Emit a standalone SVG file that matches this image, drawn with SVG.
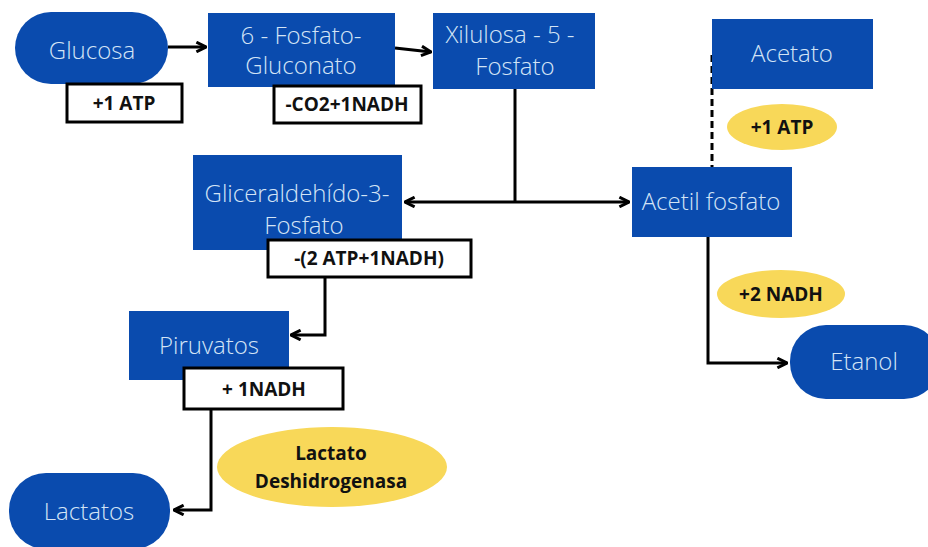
<svg xmlns="http://www.w3.org/2000/svg" width="928" height="547" viewBox="0 0 928 547">
<defs>
<style>
.n{fill:#0a4bae}
.t{font-family:"Open Sans",sans-serif;font-weight:300;font-size:24px;fill:#d3e4f6;text-anchor:middle}
.b{fill:#fff;stroke:#000;stroke-width:3}
.y{fill:#f8d859}
.l{font-family:"Open Sans",sans-serif;font-weight:700;font-size:19px;fill:#111;text-anchor:middle}
.c{fill:none;stroke:#000;stroke-width:3}
</style>
<marker id="a" viewBox="0 0 10 10" refX="9" refY="5" markerWidth="4" markerHeight="4" orient="auto-start-reverse" markerUnits="strokeWidth">
<path d="M1,1 L9,5 L1,9" fill="none" stroke="#000" stroke-width="2.5"/>
</marker>
</defs>
<rect width="928" height="547" fill="#fff"/>
<g id="connectors">
<path class="c" d="M168,47 H206" marker-end="url(#a)"/>
<path class="c" d="M395,48 L431,52" marker-end="url(#a)"/>
<path class="c" d="M515,89 V202"/>
<path class="c" d="M405,202 H629" marker-start="url(#a)" marker-end="url(#a)"/>
<path class="c" d="M712,55 V167" stroke-dasharray="7,4"/>
<path class="c" d="M325,277 V335 H291" marker-end="url(#a)"/>
<path class="c" d="M211,409 V510 H174" marker-end="url(#a)"/>
<path class="c" d="M708,237 V363 H787" marker-end="url(#a)"/>
</g>
<g id="glucosa"><rect class="n" x="15" y="12" width="153" height="72" rx="36"/><text class="t" x="92" y="59">Glucosa</text></g>
<g id="atp1"><rect class="b" x="67" y="84" width="115" height="38"/><text class="l" x="124" y="110">+1 ATP</text></g>
<g id="fosfogluconato"><rect class="n" x="208" y="13" width="187" height="74"/><text class="t" x="301" y="44">6 - Fosfato-</text><text class="t" x="301" y="74">Gluconato</text></g>
<g id="co2"><rect class="b" x="274" y="86" width="147" height="37"/><text class="l" x="347" y="111">-CO2+1NADH</text></g>
<g id="xilulosa"><rect class="n" x="433" y="13" width="162" height="76"/><text class="t" x="510" y="43">Xilulosa - 5 -</text><text class="t" x="515" y="75">Fosfato</text></g>
<g id="acetato"><rect class="n" x="712" y="19" width="161" height="70"/><text class="t" x="792" y="62">Acetato</text></g>
<g id="atp2"><ellipse class="y" cx="782" cy="127" rx="55" ry="23"/><text class="l" x="782" y="134">+1 ATP</text></g>
<g id="acetilfosfato"><rect class="n" x="632" y="167" width="160" height="70"/><text class="t" x="711" y="210">Acetil fosfato</text></g>
<g id="gliceraldehido"><rect class="n" x="193" y="155" width="209" height="95"/><text class="t" x="297" y="202">Gliceraldehído-3-</text><text class="t" x="304" y="234">Fosfato</text></g>
<g id="atpnadh"><rect class="b" x="268" y="240" width="203" height="37"/><text class="l" x="369" y="265">-(2 ATP+1NADH)</text></g>
<g id="nadh2"><ellipse class="y" cx="781" cy="294" rx="64" ry="24"/><text class="l" x="781" y="301">+2 NADH</text></g>
<g id="etanol"><rect class="n" x="790" y="325" width="150" height="74" rx="36"/><text class="t" x="864" y="370">Etanol</text></g>
<g id="piruvatos"><rect class="n" x="129" y="311" width="160" height="69"/><text class="t" x="209" y="354">Piruvatos</text></g>
<g id="nadh1"><rect class="b" x="184" y="368" width="159" height="41"/><text class="l" x="264" y="396">+ 1NADH</text></g>
<g id="ldh"><ellipse class="y" cx="332" cy="467" rx="115" ry="40"/><text class="l" x="331" y="460">Lactato</text><text class="l" x="331" y="488">Deshidrogenasa</text></g>
<g id="lactatos"><rect class="n" x="9" y="473" width="161" height="76" rx="37"/><text class="t" x="89" y="520">Lactatos</text></g>
</svg>
